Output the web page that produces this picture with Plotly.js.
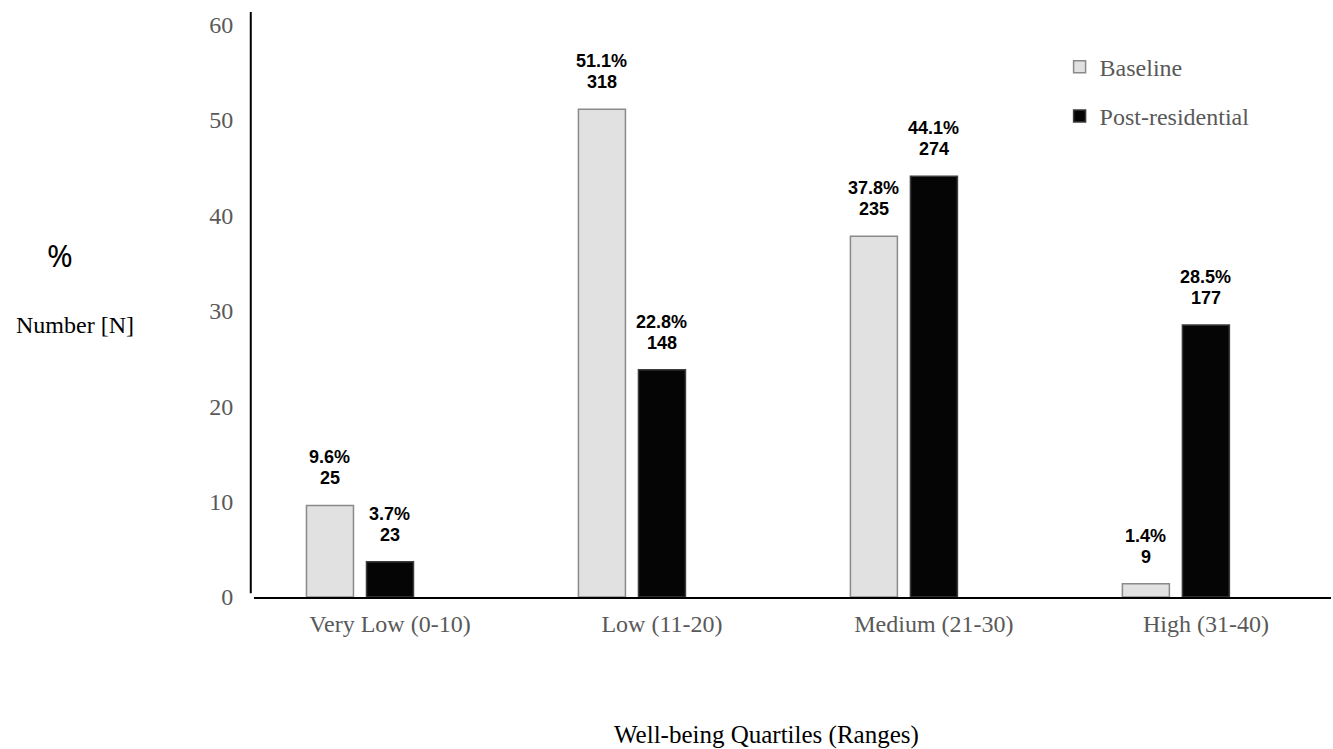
<!DOCTYPE html>
<html>
<head>
<meta charset="utf-8">
<script src="https://cdn.plot.ly/plotly-3.0.1.min.js"></script>
<style>
  html, body { margin: 0; padding: 0; background: #ffffff; }
  #chart { width: 1333px; height: 749px; }
</style>
</head>
<body>
<div id="chart"></div>
<script>
// ---- data ----
const categories = ["Very Low (0-10)", "Low (11-20)", "Medium (21-30)", "High (31-40)"];
const baselineHeights = [9.6, 51.1, 37.8, 1.4];
const postHeights = [3.7, 23.8, 44.1, 28.5];
const baselinePct = ["9.6%", "51.1%", "37.8%", "1.4%"];
const baselineN = ["25", "318", "235", "9"];
const postPct = ["3.7%", "22.8%", "44.1%", "28.5%"];
const postN = ["23", "148", "274", "177"];
const yTicks = [0, 10, 20, 30, 40, 50, 60];

const serif = "Liberation Serif, Times New Roman, serif";
const sans = "Liberation Sans, Arial, sans-serif";

const bargap = 0.338;
const slot = (1 - bargap) / 3;

const traces = [
  {
    type: "bar", name: "Baseline", x: categories, y: baselineHeights,
    marker: { color: "#e1e1e1", line: { color: "#8a8a8a", width: 1.5 } },
    legendgroup: "a", hoverinfo: "x+y"
  },
  {
    type: "bar", name: "Post-residential", x: categories, y: postHeights,
    marker: { color: "#050505", line: { color: "#3c3c3c", width: 1.5 } },
    legendgroup: "b", hoverinfo: "x+y"
  },
  {
    type: "bar", name: "", x: categories, y: categories.map(() => null),
    showlegend: false, hoverinfo: "skip"
  }
];

const annotations = [];
categories.forEach((c, i) => {
  const xb = i - slot, xp = i;
  const lab = (x, y, t, dy) => annotations.push({
    x: x, y: y, xref: "x", yref: "y", text: "<b>" + t + "</b>", showarrow: false,
    yanchor: "middle", xanchor: "center", yshift: dy,
    font: { family: sans, size: 18, color: "#000000" }
  });
  lab(xb, baselineHeights[i], baselinePct[i], 48);
  lab(xb, baselineHeights[i], baselineN[i], 27);
  lab(xp, postHeights[i], postPct[i], 48);
  lab(xp, postHeights[i], postN[i], 27);
});

annotations.push({
  text: "Well-being Quartiles (Ranges)", xref: "paper", yref: "paper",
  x: 0.476, y: -0.236, showarrow: false, xanchor: "center", yanchor: "middle",
  font: { family: serif, size: 25, color: "#000000" }
});
annotations.push({
  text: "%", xref: "paper", yref: "paper",
  x: -0.180, y: 0.585, showarrow: false, xanchor: "center", yanchor: "middle",
  font: { family: "Noto Sans, sans-serif", size: 31, color: "#000000" }
});
annotations.push({
  text: "Number [N]", xref: "paper", yref: "paper",
  x: -0.166, y: 0.465, showarrow: false, xanchor: "center", yanchor: "middle",
  font: { family: serif, size: 24, color: "#000000" }
});

const layout = {
  width: 1333, height: 749,
  margin: { l: 254, r: 2, t: 12, b: 152 },
  paper_bgcolor: "#ffffff", plot_bgcolor: "#ffffff",
  barmode: "group", bargap: bargap, bargroupgap: 0.217,
  showlegend: true,
  legend: {
    x: 0.748, y: 0.944, xanchor: "left", yanchor: "top",
    font: { family: serif, size: 24, color: "#595959" },
    tracegroupgap: 15, bgcolor: "rgba(0,0,0,0)"
  },
  xaxis: {
    type: "category", range: [-0.5, 3.46],
    showline: true, linecolor: "#000000", linewidth: 1.5,
    showgrid: false, zeroline: false,
    ticks: "outside", ticklen: 5, tickcolor: "rgba(0,0,0,0)",
    tickfont: { family: serif, size: 24, color: "#595959" }
  },
  yaxis: {
    range: [0, 61.3], tickvals: yTicks,
    showline: false, showgrid: false, zeroline: false,
    ticks: "outside", ticklen: 15, tickcolor: "rgba(0,0,0,0)",
    tickfont: { family: serif, size: 24, color: "#595959" }
  },
  shapes: [{
    type: "line", xref: "paper", yref: "y",
    x0: -0.003, x1: -0.003, y0: 0.4, y1: 61.3,
    line: { color: "#000000", width: 2 }
  }],
  annotations: annotations
};

Plotly.newPlot("chart", traces, layout, { displayModeBar: false, staticPlot: true });
</script>
</body>
</html>
